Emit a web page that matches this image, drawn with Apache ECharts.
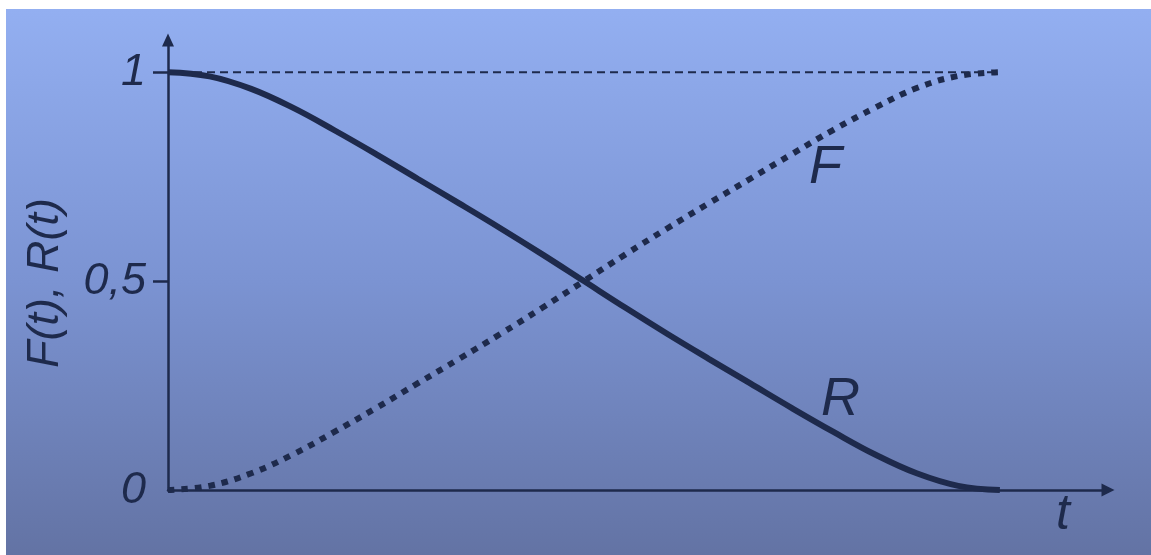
<!DOCTYPE html>
<html>
<head>
<meta charset="utf-8">
<script src="https://cdn.jsdelivr.net/npm/echarts@6/dist/echarts.min.js"></script>
<style>
  html, body { margin: 0; padding: 0; background: #ffffff; }
  #chart { position: absolute; left: 6px; top: 9px; width: 1145px; height: 546px; }
</style>
</head>
<body>
<div id="chart"></div>
<script>
// time axis (arbitrary units) and the two curves
const tVals = [0, 0.5, 1, 1.5, 2, 2.5, 3, 3.5, 4, 4.5, 5, 5.5, 6, 6.5, 7, 7.5, 8, 8.5, 9, 9.5, 10];
const rVals = [1.000, 0.990, 0.960, 0.915, 0.861, 0.804, 0.745, 0.686, 0.626, 0.564, 0.500,
               0.436, 0.374, 0.314, 0.255, 0.196, 0.139, 0.085, 0.040, 0.010, 0.000];
const fVals = [0.000, 0.010, 0.040, 0.085, 0.139, 0.196, 0.255, 0.314, 0.374, 0.436, 0.500,
               0.564, 0.626, 0.686, 0.745, 0.804, 0.862, 0.915, 0.962, 0.991, 1.000];
// reference level at 1
const refT = [0, 10];
const refVals = [1, 1];
// y tick labels
const yTicks = [0, 0.5, 1];
const yTickText = ['0', '0,5', '1'];

const ink = '#1e2a4c';
const font = "'Liberation Sans', Arial, sans-serif";

const pairs = (xs, ys) => xs.map((x, i) => [x, ys[i]]);

const chart = echarts.init(document.getElementById('chart'), null, { renderer: 'canvas' });

const options = {
    animation: false,
    backgroundColor: new echarts.graphic.LinearGradient(0, 0, 0, 1, [
        { offset: 0, color: '#93aff1' },
        { offset: 0.5, color: '#7b93d2' },
        { offset: 1, color: '#6373a4' }
    ]),
    grid: {
        left: 162,
        top: 31,
        right: 43,
        bottom: 65
    },
    xAxis: {
        type: 'value',
        min: 0,
        max: 11.3,
        name: 't',
        nameLocation: 'end',
        nameGap: -45,
        nameTextStyle: {
            color: ink,
            fontFamily: font,
            fontStyle: 'italic',
            fontSize: 50,
            align: 'center',
            verticalAlign: 'top',
            padding: [0, 0, 0, 0]
        },
        axisLine: {
            show: true,
            symbol: ['none', 'triangle'],
            symbolSize: [13, 13],
            lineStyle: { color: ink, width: 2.5 }
        },
        axisTick: { show: false },
        axisLabel: { show: false },
        splitLine: { show: false }
    },
    yAxis: {
        type: 'value',
        min: 0,
        max: 1.077,
        name: 'F(t), R(t)',
        nameLocation: 'middle',
        nameGap: 100,
        nameTextStyle: {
            color: ink,
            fontFamily: font,
            fontStyle: 'italic',
            fontSize: 45,
            padding: [0, 36, 0, 0]
        },
        axisLine: {
            show: true,
            symbol: ['none', 'triangle'],
            symbolSize: [12, 13],
            lineStyle: { color: ink, width: 2.5 }
        },
        axisTick: {
            show: true,
            length: 15,
            customValues: [0.5, 1],
            lineStyle: { color: ink, width: 2.5 }
        },
        axisLabel: {
            show: true,
            margin: 22,
            customValues: yTicks,
            color: ink,
            fontFamily: font,
            fontStyle: 'italic',
            fontSize: 45,
            formatter: function (v) {
                const i = yTicks.indexOf(v);
                return i >= 0 ? yTickText[i] : '';
            }
        },
        splitLine: { show: false }
    },
    series: [
        {
            name: 'level',
            type: 'line',
            z: 1,
            data: pairs(refT, refVals),
            showSymbol: false,
            lineStyle: { color: ink, width: 2, type: [8, 5] }
        },
        {
            name: 'F',
            type: 'line',
            z: 2,
            smooth: 0.4,
            data: pairs(tVals, fVals),
            showSymbol: false,
            lineStyle: { color: ink, width: 6, type: [6.5, 7], cap: 'butt' },
            markPoint: {
                symbol: 'circle',
                symbolSize: 0,
                data: [{ coord: [tVals[16], fVals[16]] }],
                label: {
                    show: true,
                    formatter: 'F',
                    offset: [-8, 38],
                    color: ink,
                    fontFamily: font,
                    fontStyle: 'italic',
                    fontSize: 54
                }
            }
        },
        {
            name: 'R',
            type: 'line',
            z: 3,
            smooth: 0.4,
            data: pairs(tVals, rVals),
            showSymbol: false,
            lineStyle: { color: ink, width: 6 },
            markPoint: {
                symbol: 'circle',
                symbolSize: 0,
                data: [{ coord: [tVals[16], rVals[16]] }],
                label: {
                    show: true,
                    formatter: 'R',
                    offset: [7, -32],
                    color: ink,
                    fontFamily: font,
                    fontStyle: 'italic',
                    fontSize: 54
                }
            }
        }
    ]
};

chart.setOption(options);
</script>
</body>
</html>
